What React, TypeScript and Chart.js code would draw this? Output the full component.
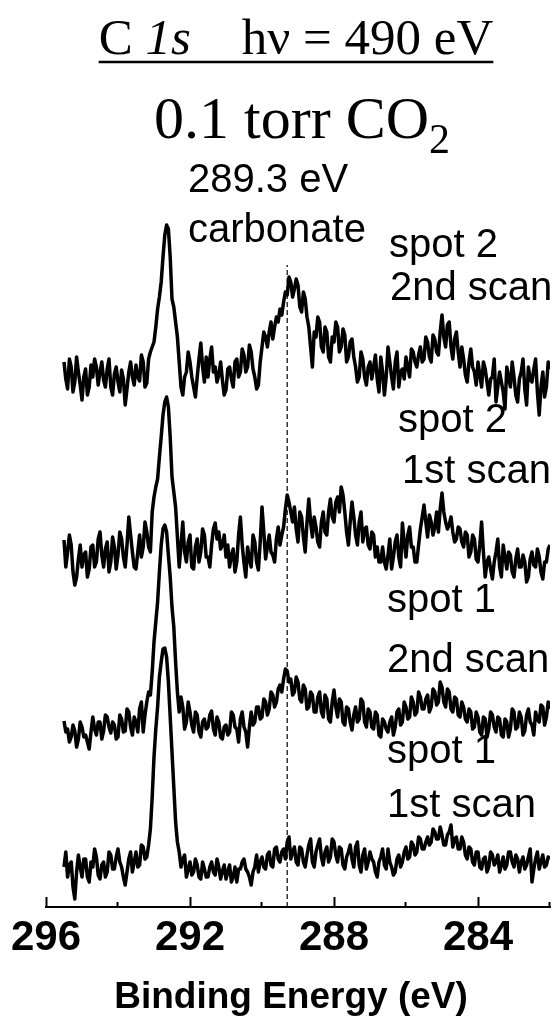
import React, { useEffect, useRef } from 'react';
import { Chart, registerables } from 'chart.js';

Chart.register(...registerables);

// Binding-energy sampling grid of the spectra (eV)
const energyStart = 295.5;
const energyStep = 0.05;

// Intensities (arbitrary units, stacked with vertical offsets as in the figure)
const spot2Scan2 = [
  545, 528, 518, 548, 540, 515, 525, 550, 535, 522, 507, 530, 538, 512, 520, 542, 530, 548, 540, 522,
  535, 545, 527, 520, 538, 548, 520, 512, 533, 540, 525, 515, 537, 528, 502, 518, 535, 545, 530, 522,
  542, 530, 526, 552, 545, 520, 524, 548, 555, 560, 565, 580, 598, 610, 625, 650, 672, 682, 678, 650,
  608, 600, 585, 570, 545, 520, 512, 530, 535, 555, 545, 530, 520, 510, 530, 548, 564, 540, 525, 550,
  530, 548, 560, 535, 540, 525, 532, 545, 527, 512, 517, 538, 540, 528, 520, 545, 548, 530, 535, 558,
  552, 535, 540, 562, 555, 538, 530, 518, 522, 545, 560, 575, 570, 560, 575, 585, 568, 580, 590, 585,
  598, 592, 605, 615, 612, 630, 625, 610, 618, 628, 622, 600, 595, 615, 608, 590, 580, 560, 540, 575,
  570, 590, 585, 560, 555, 580, 575, 550, 545, 570, 565, 585, 580, 555, 560, 578, 572, 545, 550, 565,
  568, 550, 540, 525, 530, 555, 548, 530, 522, 540, 545, 528, 540, 552, 528, 515, 550, 535, 512, 530,
  560, 545, 530, 518, 545, 555, 520, 535, 538, 528, 550, 540, 530, 558, 555, 545, 540, 552, 560, 545,
  548, 570, 565, 550, 545, 572, 568, 555, 552, 575, 592, 570, 560, 582, 585, 560, 548, 568, 575, 555,
  540, 560, 548, 532, 525, 545, 558, 540, 535, 522, 545, 532, 520, 545, 538, 525, 512, 528, 530, 548,
  505, 520, 535, 525, 515, 498, 540, 530, 520, 545, 530, 512, 505, 528, 535, 548, 518, 502, 540, 528,
  525, 538, 548, 515, 492, 520, 535, 510, 520, 545, 538,
];

const spot2Scan1 = [
  367, 340, 355, 372, 362, 335, 322, 330, 348, 362, 340, 352, 355, 330, 338, 360, 362, 340, 345, 368,
  375, 352, 340, 358, 365, 335, 345, 370, 360, 338, 352, 375, 368, 350, 340, 362, 390, 372, 355, 340,
  338, 355, 372, 350, 360, 385, 375, 360, 355, 395, 410, 420, 428, 450, 470, 492, 505, 510, 500, 470,
  430, 415, 400, 370, 340, 362, 385, 355, 345, 365, 372, 340, 338, 360, 368, 345, 355, 378, 372, 350,
  350, 340, 362, 378, 384, 368, 375, 358, 362, 372, 350, 362, 340, 352, 358, 335, 345, 372, 390, 362,
  344, 330, 360, 348, 340, 372, 365, 345, 337, 365, 400, 375, 348, 360, 372, 355, 352, 345, 368, 380,
  362, 372, 380, 398, 412, 405, 395, 385, 400, 378, 365, 395, 390, 370, 355, 385, 408, 385, 370, 390,
  380, 365, 360, 385, 395, 375, 372, 395, 408, 390, 385, 405, 410, 395, 420, 412, 395, 375, 362, 385,
  405, 390, 372, 362, 385, 395, 365, 378, 380, 362, 358, 375, 372, 350, 360, 345, 345, 360, 345, 338,
  352, 368, 338, 350, 365, 372, 350, 340, 384, 365, 350, 372, 380, 360, 360, 345, 345, 362, 378, 390,
  402, 385, 370, 392, 385, 372, 380, 395, 375, 398, 414, 395, 385, 378, 382, 390, 375, 365, 368, 380,
  378, 365, 360, 375, 372, 350, 355, 372, 368, 348, 345, 362, 385, 355, 330, 345, 350, 338, 328, 345,
  355, 368, 340, 330, 362, 350, 338, 355, 352, 335, 330, 348, 358, 340, 340, 352, 345, 325, 330, 348,
  355, 342, 340, 358, 350, 335, 328, 345, 345, 358, 362,
];

const spot1Scan2 = [
  186, 175, 178, 165, 170, 182, 176, 160, 168, 185, 180, 170, 172, 165, 158, 175, 190, 178, 172, 185,
  185, 168, 176, 192, 190, 180, 174, 185, 182, 168, 170, 192, 188, 175, 176, 198, 195, 180, 172, 190,
  185, 175, 198, 205, 175, 192, 205, 215, 212, 235, 265, 285, 305, 335, 362, 378, 382, 375, 352, 330,
  300, 280, 245, 215, 195, 210, 200, 178, 185, 205, 195, 182, 175, 195, 192, 175, 170, 185, 188, 178,
  180, 192, 196, 178, 172, 190, 185, 170, 168, 180, 182, 172, 175, 195, 192, 180, 178, 165, 188, 195,
  180, 175, 160, 180, 195, 182, 185, 200, 200, 188, 190, 208, 205, 192, 198, 215, 212, 200, 205, 218,
  222, 215, 228, 238, 236, 225, 228, 212, 215, 230, 225, 208, 205, 222, 218, 198, 200, 215, 212, 195,
  195, 210, 215, 195, 190, 212, 208, 188, 185, 205, 217, 200, 190, 208, 205, 185, 182, 200, 198, 185,
  177, 192, 200, 185, 188, 208, 205, 185, 180, 198, 195, 180, 178, 195, 192, 172, 170, 188, 185, 178,
  175, 185, 190, 172, 180, 195, 198, 182, 185, 205, 200, 188, 190, 210, 205, 192, 195, 215, 210, 198,
  198, 208, 212, 195, 200, 218, 215, 202, 205, 225, 220, 205, 200, 218, 215, 198, 195, 210, 208, 192,
  190, 205, 200, 188, 185, 198, 195, 178, 180, 195, 190, 175, 172, 190, 188, 170, 178, 195, 192, 180,
  175, 190, 188, 172, 170, 188, 185, 170, 178, 198, 195, 178, 180, 195, 190, 172, 176, 192, 198, 185,
  182, 172, 195, 188, 185, 202, 200, 182, 190, 205, 198,
];

const spot1Scan1 = [
  40, 55, 30, 42, 45, 20, 8, 35, 52, 40, 30, 48, 48, 30, 25, 45, 40, 58, 50, 32,
  28, 42, 45, 30, 35, 55, 52, 38, 38, 50, 58, 45, 40, 30, 22, 35, 48, 55, 35, 45,
  55, 40, 42, 62, 60, 48, 50, 62, 78, 110, 150, 178, 200, 230, 245, 258, 259, 250, 225, 190,
  155, 120, 85, 65, 55, 40, 48, 52, 30, 38, 45, 32, 35, 48, 42, 30, 28, 45, 38, 30,
  30, 40, 45, 35, 32, 48, 40, 28, 36, 42, 28, 35, 42, 25, 30, 40, 25, 38, 38, 45,
  48, 38, 35, 30, 22, 35, 40, 52, 35, 45, 50, 40, 38, 52, 55, 42, 40, 58, 60, 48,
  45, 55, 58, 48, 65, 70, 48, 55, 60, 45, 42, 60, 58, 45, 40, 52, 62, 68, 45, 40,
  55, 62, 68, 50, 42, 55, 60, 45, 50, 68, 65, 52, 45, 60, 58, 42, 38, 50, 55, 62,
  48, 40, 60, 65, 42, 35, 52, 58, 38, 45, 55, 48, 45, 35, 30, 45, 50, 58, 42, 38,
  58, 45, 40, 32, 35, 48, 52, 40, 45, 55, 60, 48, 50, 65, 62, 52, 55, 70, 68, 58,
  58, 65, 70, 62, 65, 78, 75, 68, 68, 80, 72, 62, 62, 72, 75, 82, 60, 68, 70, 58,
  58, 70, 65, 52, 48, 60, 58, 45, 42, 55, 55, 40, 38, 48, 50, 35, 40, 55, 52, 42,
  45, 52, 35, 42, 50, 38, 42, 55, 55, 45, 40, 52, 48, 35, 45, 50, 38, 42, 50, 58,
  25, 38, 48, 55, 38, 45, 52, 40, 42, 50, 48,
];

const majorTicks = [296, 292, 288, 284];
const minorTicks = [294, 290, 286, 282];
const xMin = 282;
const xMax = 296;
const yMin = 0;
const yMax = 700;
const carbonateEnergy = 289.3;
const carbonateLineTop = 642;

const SANS = '"Liberation Sans", Arial, sans-serif';
const SERIF = '"Liberation Serif", "Times New Roman", serif';

const toPoints = (vals: number[]) =>
  vals.map((v, i) => ({ x: +(energyStart - i * energyStep).toFixed(3), y: v }));

const traceStyle = {
  borderColor: '#000',
  borderWidth: 3.5,
  borderJoinStyle: 'round',
  pointRadius: 0,
  tension: 0,
  fill: false,
  order: 0,
};

const overlay = {
  id: 'overlay',
  afterDraw(chart: any) {
    const { ctx } = chart;
    const xs = chart.scales.x;
    const axisY = chart.chartArea.bottom;
    ctx.save();
    ctx.strokeStyle = '#000';
    ctx.lineWidth = 2;
    majorTicks.forEach((v) => {
      const px = Math.round(xs.getPixelForValue(v)) + 0.5;
      ctx.beginPath();
      ctx.moveTo(px, axisY);
      ctx.lineTo(px, axisY - 10);
      ctx.stroke();
    });
    minorTicks.forEach((v) => {
      const px = Math.round(xs.getPixelForValue(v)) - 0.5;
      ctx.beginPath();
      ctx.moveTo(px, axisY);
      ctx.lineTo(px, axisY - 5);
      ctx.stroke();
    });

    ctx.fillStyle = '#000';
    ctx.textBaseline = 'alphabetic';
    ctx.textAlign = 'left';

    // Title line 1: "C 1s    hν = 490 eV" (underlined)
    const f1 = `51px ${SERIF}`;
    const f1i = `italic 51px ${SERIF}`;
    const segs: [string, string][] = [
      ['C ', f1],
      ['1s', f1i],
      ['    hν = 490 eV', f1],
    ];
    let total = 0;
    segs.forEach(([t, f]) => {
      ctx.font = f;
      total += ctx.measureText(t).width;
    });
    let x = 296 - total / 2;
    const x0 = x;
    segs.forEach(([t, f]) => {
      ctx.font = f;
      ctx.fillText(t, x, 54);
      x += ctx.measureText(t).width;
    });
    ctx.lineWidth = 2.5;
    ctx.beginPath();
    ctx.moveTo(x0, 62);
    ctx.lineTo(x, 62);
    ctx.stroke();

    // Title line 2: "0.1 torr CO2"
    ctx.font = `60px ${SERIF}`;
    const main = '0.1 torr CO';
    const wMain = ctx.measureText(main).width;
    ctx.font = `42px ${SERIF}`;
    const wSub = ctx.measureText('2').width;
    const sx = 302 - (wMain + wSub) / 2;
    ctx.font = `60px ${SERIF}`;
    ctx.fillText(main, sx, 138);
    ctx.font = `42px ${SERIF}`;
    ctx.fillText('2', sx + wMain, 153);

    // Annotations
    ctx.font = `40px ${SANS}`;
    const labels: [string, number, number][] = [
      ['289.3 eV', 188, 192],
      ['carbonate', 188, 242],
      ['spot 2', 389, 257],
      ['2nd scan', 390, 300],
      ['spot 2', 398, 432],
      ['1st scan', 402, 483],
      ['spot 1', 387, 612],
      ['2nd scan', 387, 672],
      ['spot 1', 387, 763],
      ['1st scan', 387, 817],
    ];
    labels.forEach(([t, lx, ly]) => ctx.fillText(t, lx, ly));

    // Axis title
    ctx.font = `bold 37px ${SANS}`;
    ctx.textAlign = 'center';
    ctx.fillText('Binding Energy (eV)', 291, 1008);
    ctx.restore();
  },
};

export default function App() {
  const ref = useRef<HTMLCanvasElement>(null);
  useEffect(() => {
    const chart = new Chart(ref.current as HTMLCanvasElement, {
      type: 'line',
      data: {
        datasets: [
          {
            data: [
              { x: carbonateEnergy, y: yMin },
              { x: carbonateEnergy, y: carbonateLineTop },
            ],
            borderColor: '#000',
            borderWidth: 1.2,
            borderDash: [5, 3],
            pointRadius: 0,
            order: 10,
          },
          { data: toPoints(spot2Scan2), ...traceStyle },
          { data: toPoints(spot2Scan1), ...traceStyle },
          { data: toPoints(spot1Scan2), ...traceStyle },
          { data: toPoints(spot1Scan1), ...traceStyle },
        ],
      },
      options: {
        animation: false,
        responsive: false,
        devicePixelRatio: 1,
        layout: { padding: { top: 207, left: 46, right: 10, bottom: 0 } },
        plugins: { legend: { display: false }, tooltip: { enabled: false } },
        scales: {
          x: {
            type: 'linear',
            min: xMin,
            max: xMax,
            reverse: true,
            afterBuildTicks: (s: any) => {
              s.ticks = majorTicks.map((v) => ({ value: v }));
            },
            afterFit: (s: any) => {
              s.height = 118;
            },
            grid: { display: false, drawTicks: false },
            border: { display: true, color: '#000', width: 2 },
            ticks: {
              color: '#000',
              font: { family: SANS, weight: 'bold', size: 42 },
              padding: 6,
              maxRotation: 0,
              autoSkip: false,
            },
          },
          y: { display: false, min: yMin, max: yMax },
        },
      } as any,
      plugins: [overlay],
    });
    return () => chart.destroy();
  }, []);
  return (
    <div style={{ position: 'fixed', left: 0, top: 0, width: 560, height: 1025, background: '#fff' }}>
      <canvas ref={ref} width={560} height={1025} style={{ display: 'block', width: 560, height: 1025 }} />
    </div>
  );
}
